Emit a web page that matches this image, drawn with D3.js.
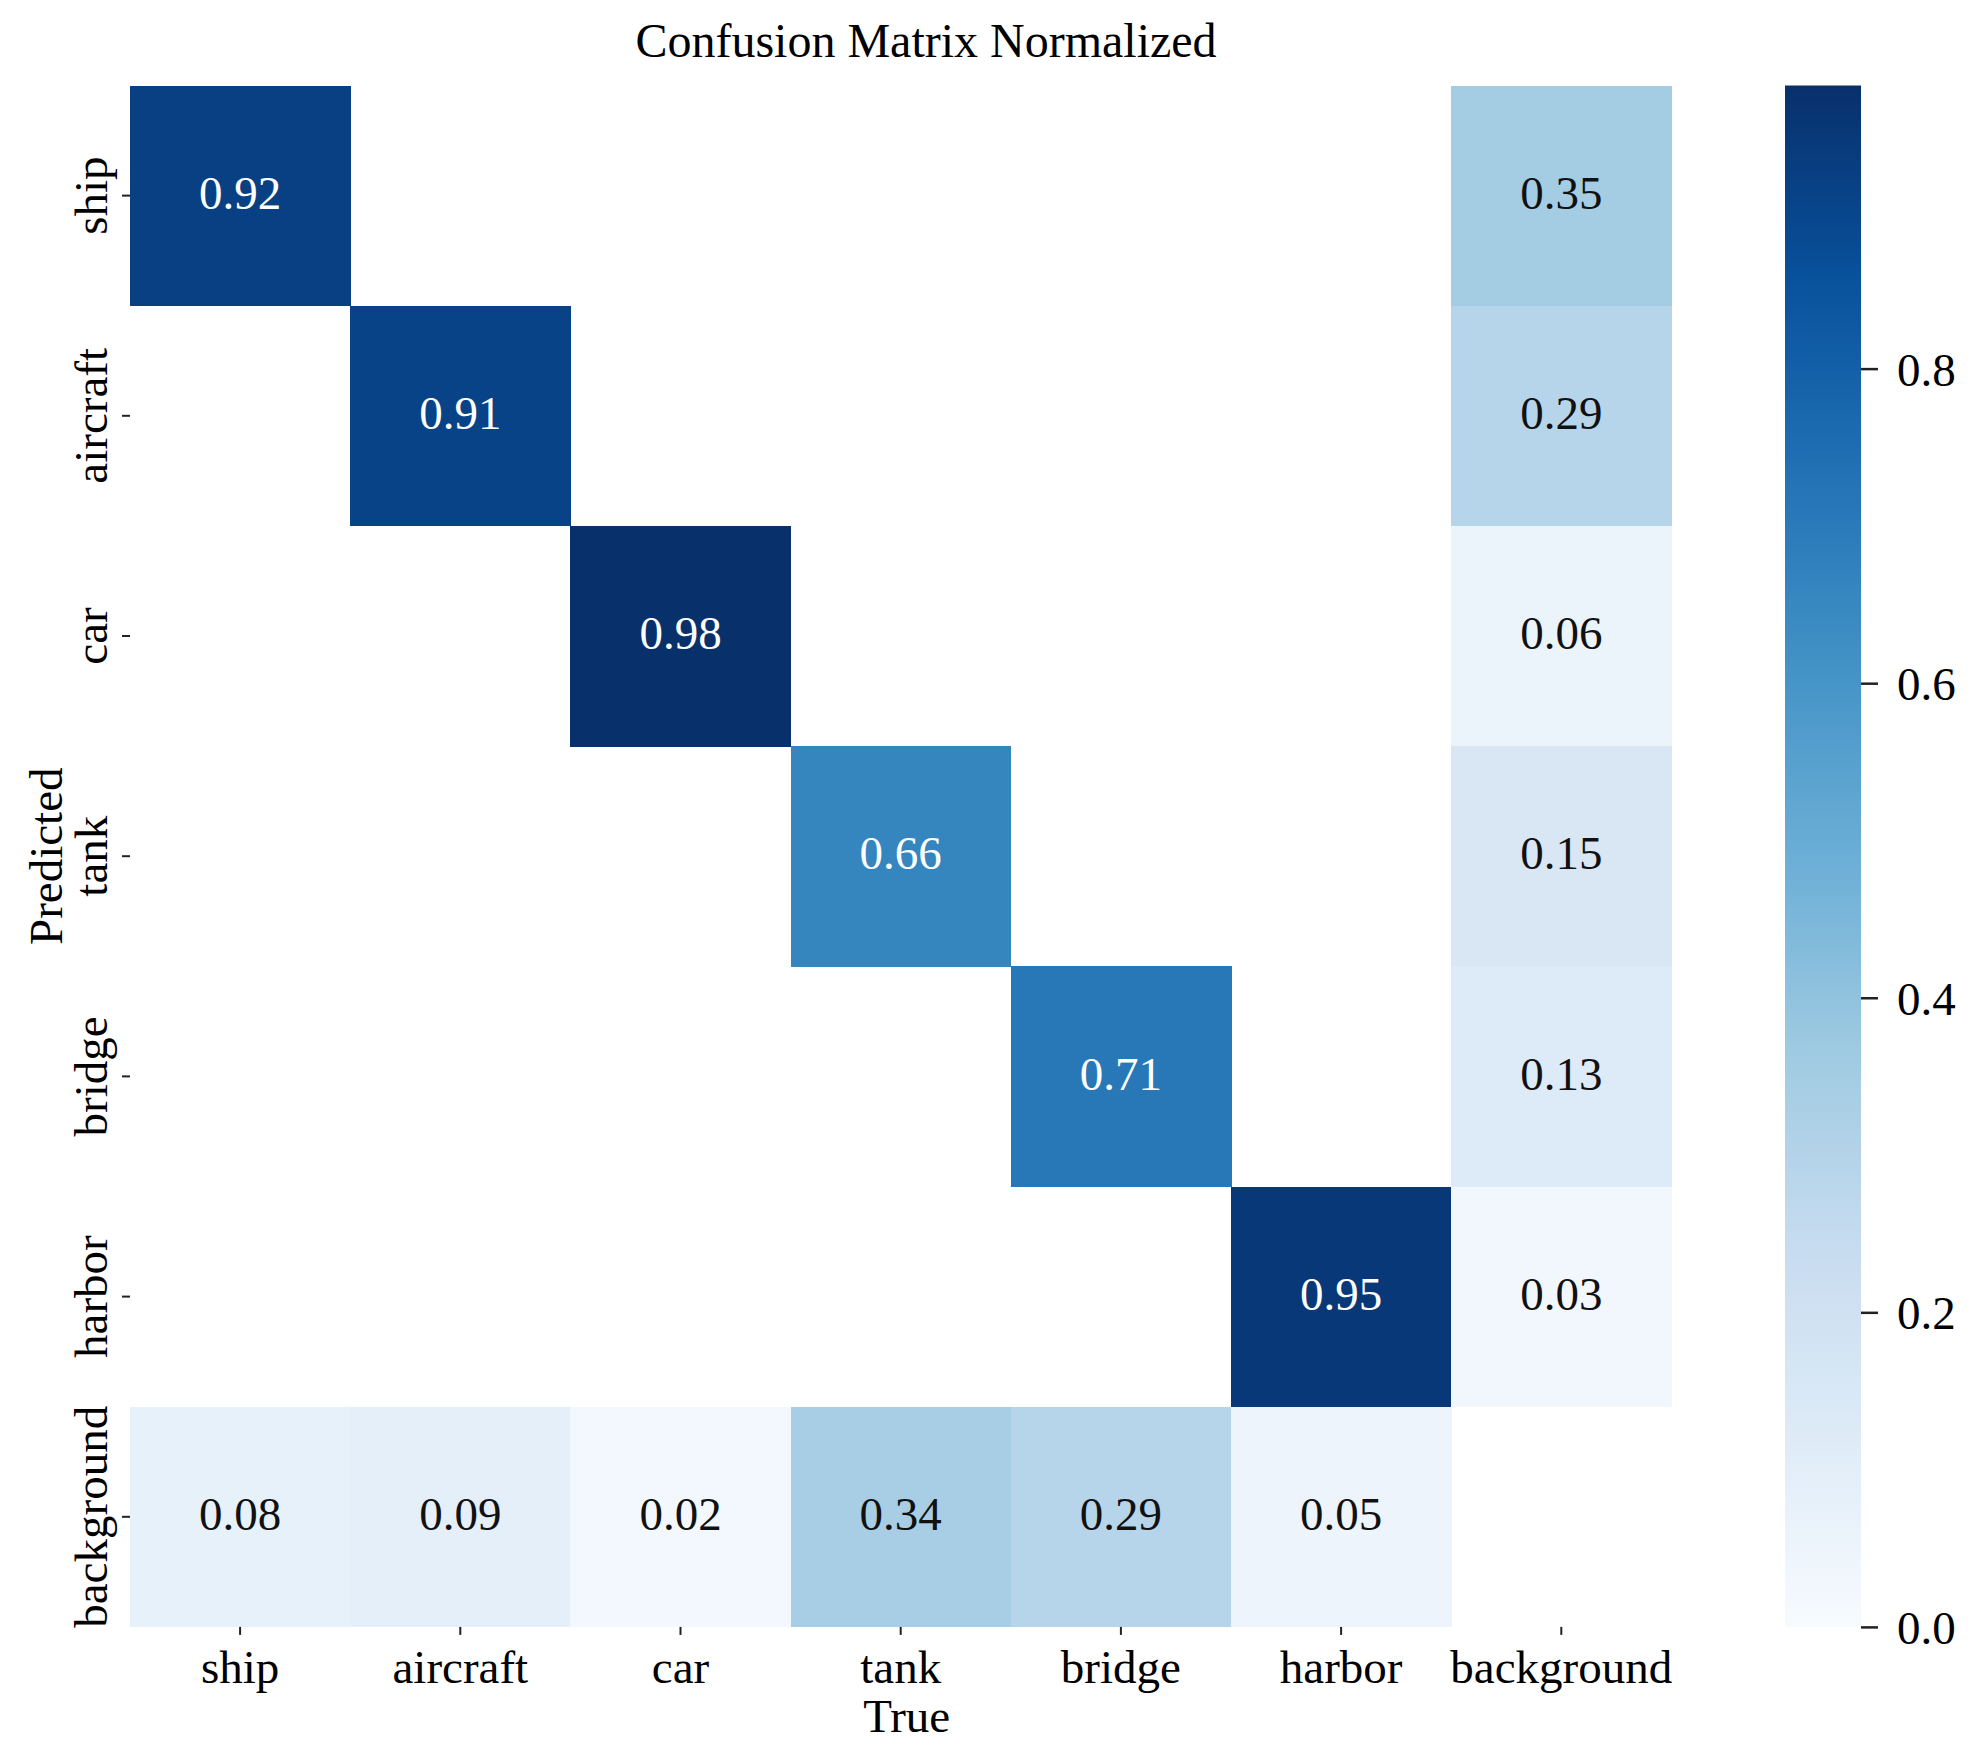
<!DOCTYPE html>
<html>
<head>
<meta charset="utf-8">
<script src="https://cdn.jsdelivr.net/npm/d3@7"></script>
<style>
  html, body { margin: 0; padding: 0; background: #ffffff; }
  svg { display: block; }
  text { font-family: "Liberation Serif", "Times New Roman", "DejaVu Serif", serif; fill: #000; }
</style>
</head>
<body>
<svg id="chart" width="1973" height="1763"></svg>
<script>
// ---- data ----
const trueLabels = ["ship", "aircraft", "car", "tank", "bridge", "harbor", "background"];
const predLabels = ["ship", "aircraft", "car", "tank", "bridge", "harbor", "background"];
// rows = Predicted, columns = True
const rowShip       = [0.92, 0,    0,    0,    0,    0,    0.35];
const rowAircraft   = [0,    0.91, 0,    0,    0,    0,    0.29];
const rowCar        = [0,    0,    0.98, 0,    0,    0,    0.06];
const rowTank       = [0,    0,    0,    0.66, 0,    0,    0.15];
const rowBridge     = [0,    0,    0,    0,    0.71, 0,    0.13];
const rowHarbor     = [0,    0,    0,    0,    0,    0.95, 0.03];
const rowBackground = [0.08, 0.09, 0.02, 0.34, 0.29, 0.05, 0];
const matrix = [rowShip, rowAircraft, rowCar, rowTank, rowBridge, rowHarbor, rowBackground];
const colorbarTicks = [0.0, 0.2, 0.4, 0.6, 0.8];
const bluesPalette = ["#f7fbff", "#deebf7", "#c6dbef", "#9ecae1", "#6baed6", "#4292c6", "#2171b5", "#08519c", "#08306b"];
const titleText = "Confusion Matrix Normalized";
const xTitle = "True";
const yTitle = "Predicted";

// ---- layout ----
const FS = 47;
const mLeft = 130, mTop = 85.5, cell = 220.2;
const W = cell * trueLabels.length, H = cell * predLabels.length;
const cbLeft = 1785, cbWidth = 76;

const svg = d3.select("#chart");

const vmin = 0, vmax = d3.max(matrix.flat());
const color = d3.scaleLinear()
  .domain(bluesPalette.map((_, i) => vmin + (vmax - vmin) * i / (bluesPalette.length - 1)))
  .range(bluesPalette)
  .interpolate(d3.interpolateRgb)
  .clamp(true);

const x = d3.scaleBand().domain(trueLabels).range([0, W]).padding(0);
const y = d3.scaleBand().domain(predLabels).range([0, H]).padding(0);

const g = svg.append("g").attr("transform", `translate(${mLeft},${mTop})`);

const cells = [];
matrix.forEach((row, i) => row.forEach((v, j) => {
  cells.push({ pred: predLabels[i], tru: trueLabels[j], v });
}));
const shown = cells.filter(d => d.v > 0);

g.selectAll("rect.cell").data(shown).join("rect")
  .attr("class", "cell")
  .attr("x", d => x(d.tru))
  .attr("y", d => y(d.pred))
  .attr("width", x.bandwidth() + 0.5)
  .attr("height", y.bandwidth() + 0.5)
  .attr("fill", d => color(d.v))
  .attr("shape-rendering", "crispEdges");

function relLum(c) {
  const rgb = d3.rgb(c);
  const f = ch => { ch /= 255; return ch <= 0.03928 ? ch / 12.92 : Math.pow((ch + 0.055) / 1.055, 2.4); };
  return 0.2126 * f(rgb.r) + 0.7152 * f(rgb.g) + 0.0722 * f(rgb.b);
}

g.selectAll("text.annot").data(shown).join("text")
  .attr("class", "annot")
  .attr("x", d => x(d.tru) + x.bandwidth() / 2)
  .attr("y", d => y(d.pred) + y.bandwidth() / 2)
  .attr("dy", "0.28em")
  .attr("text-anchor", "middle")
  .style("font-size", FS + "px")
  .style("fill", d => relLum(color(d.v)) > 0.408 ? "#111111" : "#ffffff")
  .text(d => d.v.toFixed(2));

// x axis
const xAxis = g.append("g").attr("transform", `translate(0,${H})`)
  .call(d3.axisBottom(x).tickSize(8).tickPadding(15));
xAxis.select(".domain").remove();
xAxis.selectAll(".tick line").attr("stroke", "#222").attr("stroke-width", 2);
xAxis.selectAll(".tick text").style("font-size", FS + "px").attr("fill", "#000")
  .attr("font-family", null);

// y axis
const yAxis = g.append("g")
  .call(d3.axisLeft(y).tickSize(8));
yAxis.select(".domain").remove();
yAxis.selectAll(".tick line").attr("stroke", "#222").attr("stroke-width", 2);
yAxis.selectAll(".tick text")
  .style("font-size", FS + "px")
  .attr("fill", "#000")
  .attr("text-anchor", "middle")
  .attr("x", 0)
  .attr("y", -23)
  .attr("dy", 0)
  .attr("transform", "rotate(-90)");

// axis titles
svg.append("text")
  .attr("x", mLeft + W / 2 + 6).attr("y", 1732)
  .attr("text-anchor", "middle")
  .style("font-size", FS + "px")
  .text(xTitle);

svg.append("text")
  .attr("transform", `translate(62,${mTop + H / 2}) rotate(-90)`)
  .attr("text-anchor", "middle")
  .style("font-size", FS + "px")
  .text(yTitle);

// title
svg.append("text")
  .attr("x", 926).attr("y", 57)
  .attr("text-anchor", "middle")
  .style("font-size", "48px")
  .text(titleText);

// colorbar
const defs = svg.append("defs");
const grad = defs.append("linearGradient")
  .attr("id", "cbgrad").attr("x1", 0).attr("y1", 1).attr("x2", 0).attr("y2", 0);
d3.range(0, 1.0001, 0.02).forEach(t => {
  grad.append("stop").attr("offset", t).attr("stop-color", color(vmin + t * (vmax - vmin)));
});
svg.append("rect")
  .attr("x", cbLeft).attr("y", mTop)
  .attr("width", cbWidth).attr("height", H)
  .attr("fill", "url(#cbgrad)");

const cbScale = d3.scaleLinear().domain([vmin, vmax]).range([mTop + H, mTop]);
const cbAxis = svg.append("g").attr("transform", `translate(${cbLeft + cbWidth},0)`)
  .call(d3.axisRight(cbScale).tickValues(colorbarTicks).tickFormat(d3.format(".1f")).tickSize(17).tickPadding(19));
cbAxis.select(".domain").remove();
cbAxis.selectAll(".tick line").attr("stroke", "#222").attr("stroke-width", 2.5);
cbAxis.selectAll(".tick text").style("font-size", FS + "px").attr("fill", "#000").attr("dy", "0.35em");
</script>
</body>
</html>
